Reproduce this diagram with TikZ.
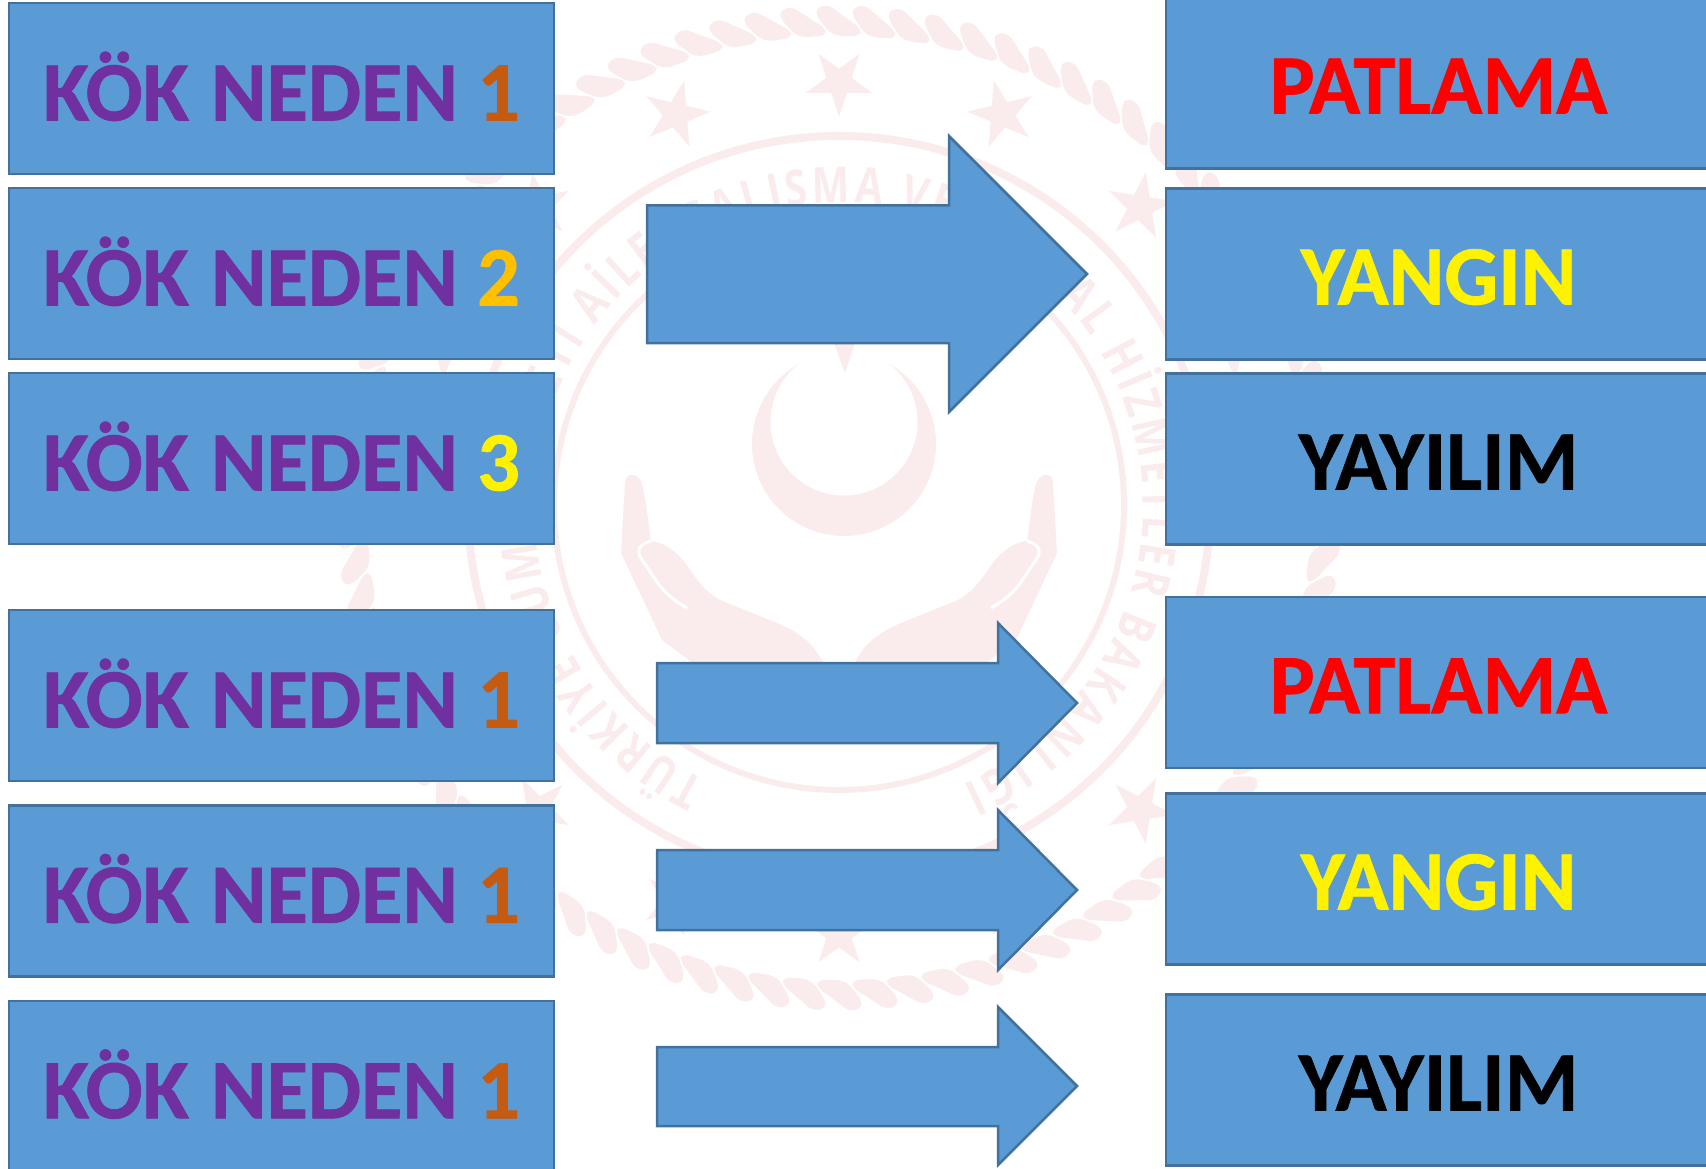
\documentclass[tikz,border=0pt]{standalone}
\usepackage{fontspec}
\setmainfont{Carlito}
\newfontfamily\wmfont[FakeStretch=0.8]{Open Sans}
\usepackage{tikz}
\usetikzlibrary{shapes.geometric}
\usetikzlibrary{decorations.text}
\definecolor{boxBlue}{HTML}{5B9BD5}
\definecolor{boxLine}{HTML}{41719C}
\definecolor{wmPink}{HTML}{FAECEC}
\definecolor{kokPurple}{HTML}{7030A0}
\definecolor{numOrange}{HTML}{C55A11}
\definecolor{numGold}{HTML}{FFC000}
\tikzset{
  kutu/.style={draw=boxLine, fill=boxBlue, line width=2.5pt, minimum width=545pt, minimum height=171pt,
    inner sep=0pt, outer sep=0pt, text height=61pt, text depth=0pt,
    font=\fontsize{84.5}{90}\selectfont\bfseries\addfontfeature{FakeBold=0.8}},
  kokKutu/.style={kutu, text height=63.5pt},
  ok/.style={draw=boxLine, fill=boxBlue, line width=2.5pt},
  wmStar/.style={star, star points=5, star point ratio=2.618, minimum size=70pt, inner sep=0pt, fill=wmPink},
}
\newcommand{\kok}[2]{\textcolor{kokPurple}{KÖK\hspace{3pt} NEDEN} \textcolor{#1}{#2}}
\begin{document}
\begin{tikzpicture}[x=1pt, y=-1pt]
\path[use as bounding box, clip] (0,0) rectangle (1706,1169);

% watermark
\draw[wmPink, line width=8pt] (839,507) circle[radius=371pt];
\draw[wmPink, line width=6pt] (839,505) circle[radius=285pt];
\foreach \i in {1,...,86} {
  \begin{scope}[shift={(839,508)}, rotate=\i*4.186]
    \fill[wmPink, rounded corners=5pt] (-22,-501) -- (-10,-503) -- (22,-479) -- (21,-472)
      -- (-1,-472) -- (-10,-476) -- (-23,-493) -- cycle;
  \end{scope}
}
\foreach \a in {0,22.5,...,337.5} {
  \begin{scope}[shift={(839,508)}, rotate=\a]
    \node[wmStar, transform shape, rotate=180] at (0,-426) {};
  \end{scope}
}
\begin{scope}[y=1pt]
  \path[decorate, decoration={text along path, text align={fit to path},
    text={|\wmfont\bfseries\fontsize{50}{50}\selectfont\color{wmPink}|TÜRKİYE CUMHURİYETİ AİLE, ÇALIŞMA VE SOSYAL HİZMETLER BAKANLIĞI}}]
    (839,-507) ++(244:304pt) arc[start angle=244, end angle=-66, radius=304pt];
\end{scope}
% crescent
\fill[wmPink] (844,444) circle[radius=92pt];
\fill[white] (844,422) circle[radius=73.5pt];
\fill[wmPink] (834,343) -- (855,343) -- (845,373) -- cycle;
% hands
\foreach \side in {1,-1} {
  \begin{scope}[shift={(839,0)}, xscale=\side]
    \fill[wmPink] (-218,553) -- (-214,482) .. controls (-213,472) and (-201,472) .. (-197,484)
      .. controls (-193,500) and (-191,520) .. (-188,541)
      .. controls (-175,542) and (-160,552) .. (-149,570)
      .. controls (-135,590) and (-125,598) .. (-114,602)
      -- (-62,623) .. controls (-40,632) and (-22,645) .. (-14,668)
      -- (-140,668) -- (-177,640) -- cycle;
    \draw[white, line width=3pt] (-188,541) .. controls (-199,544) and (-204,550) .. (-197,560)
      .. controls (-182,580) and (-180,592) .. (-152,608);
  \end{scope}
}

% left column
\node[kokKutu] (kokA) at (281.5,88.7) {\kok{numOrange}{1}};
\node[kokKutu] (kokB) at (281.5,273.7) {\kok{numGold}{2}};
\node[kokKutu] (kokC) at (281.5,458.7) {\kok{yellow}{3}};
\node[kokKutu] (kokD) at (281.5,695.7) {\kok{numOrange}{1}};
\node[kokKutu] (kokE) at (281.5,891) {\kok{numOrange}{1}};
\node[kokKutu] (kokF) at (281.5,1086.5) {\kok{numOrange}{1}};

% right column
\node[kutu, text=red] (sonucA) at (1438.5,83) {PATLAMA};
\node[kutu, text=yellow] (sonucB) at (1438.5,274) {YANGIN};
\node[kutu, text=black] (sonucC) at (1438.5,459) {YAYILIM};
\node[kutu, text=red] (sonucD) at (1438.5,682.7) {PATLAMA};
\node[kutu, text=yellow] (sonucE) at (1438.5,879) {YANGIN};
\node[kutu, text=black] (sonucF) at (1438.5,1080) {YAYILIM};

% arrows
\draw[ok] (647,205.5) -- (949,205.5) -- (949,136) -- (1087,274) -- (949,412) -- (949,343) -- (647,343) -- cycle;
\draw[ok] (657,663) -- (998,663) -- (998,623) -- (1077,703) -- (998,783) -- (998,743) -- (657,743) -- cycle;
\draw[ok] (657,850) -- (998,850) -- (998,810) -- (1077,890) -- (998,970) -- (998,930) -- (657,930) -- cycle;
\draw[ok] (657,1047) -- (998,1047) -- (998,1007) -- (1077,1086) -- (998,1165) -- (998,1126) -- (657,1126) -- cycle;
\end{tikzpicture}
\end{document}
